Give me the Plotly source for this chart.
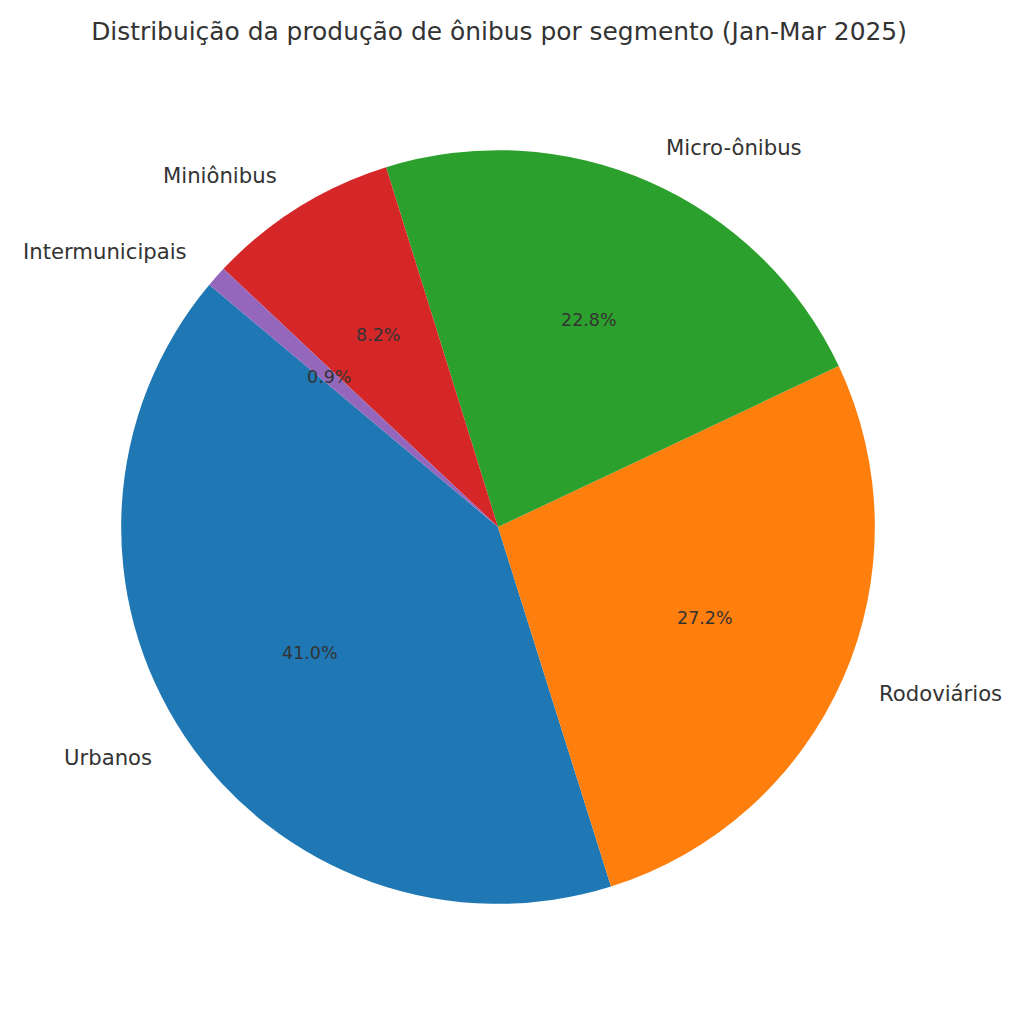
import numpy as np
import plotly.graph_objects as go

# segment shares (%), Jan-Mar 2025
segments = ["Urbanos", "Rodoviários", "Micro-ônibus", "Miniônibus", "Intermunicipais"]
shares = [41.0, 27.2, 22.8, 8.2, 0.9]
colors = ["#1f77b4", "#ff7f0e", "#2ca02c", "#d62728", "#9467bd"]

start_angle = 140  # degrees, counterclockwise from 3 o'clock
# page has an 8px body margin, so positions are shifted by that
cx, cy, r = (498 - 8) / 1024, 1 - (527 - 8) / 1024, 0.368  # pie centre / radius in paper units
txt_color = "#333333"

vals = np.array(shares)
frac = vals / vals.sum()

fig = go.Figure(
    go.Pie(
        labels=segments,
        values=shares,
        sort=False,
        direction="counterclockwise",
        # plotly anchors the end of the first slice at "rotation" when counterclockwise
        rotation=90 - start_angle - 360 * frac[0],
        marker=dict(colors=colors, line=dict(width=0)),
        textinfo="none",
        hoverinfo="label+percent",
        showlegend=False,
        domain=dict(x=[cx - r, cx + r], y=[cy - r, cy + r]),
    )
)

# percent inside at 0.6r, labels outside at 1.1r (like matplotlib autopct)
theta = start_angle + 360 * (np.cumsum(frac) - frac / 2)
annotations = []
for name, f, t in zip(segments, frac, theta):
    c, s = np.cos(np.radians(t)), np.sin(np.radians(t))
    annotations.append(dict(
        x=cx + 0.6 * r * c, y=cy + 0.6 * r * s, xref="paper", yref="paper",
        text=f"{f * 100:.1f}%", showarrow=False, xanchor="center", yanchor="middle",
        borderpad=0, font=dict(size=17.5, color=txt_color),
    ))
    annotations.append(dict(
        x=cx + 1.1 * r * c, y=cy + 1.1 * r * s, xref="paper", yref="paper",
        text=name, showarrow=False, xanchor="left" if c > 0 else "right", yanchor="middle",
        borderpad=0, font=dict(size=21.2, color=txt_color),
    ))

fig.update_layout(
    width=1024,
    height=1024,
    margin=dict(l=0, r=0, t=0, b=0),
    paper_bgcolor="white",
    font=dict(family="DejaVu Sans", color=txt_color),
    title=dict(
        text="Distribuição da produção de ônibus por segmento (Jan-Mar 2025)",
        x=(499 - 8) / 1024, xanchor="center", y=1 - (31 - 8) / 1024, yanchor="middle",
        font=dict(size=24.9, color=txt_color),
    ),
    annotations=annotations,
)

fig.write_html("out.html")
